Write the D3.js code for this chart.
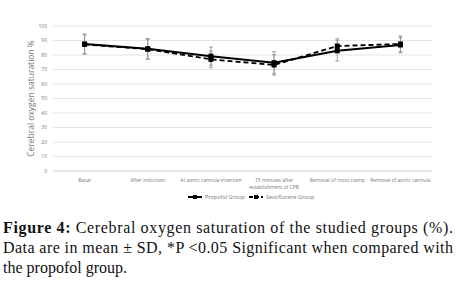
<!DOCTYPE html>
<html>
<head>
<meta charset="utf-8">
<script src="https://cdn.jsdelivr.net/npm/d3@7"></script>
<style>
  body { margin: 0; background: #fff; }
  svg text { font-family: "Open Sans", "DejaVu Sans", sans-serif; }
</style>
</head>
<body>
<div id="chart"></div>
<script>
// data
const categories = ["Basal", "After induction", "At aortic cannula insertion",
  "15 minutes after|establishment of CPB", "Removal of cross clamp", "Removal of aortic cannula"];
const propofol = [87.6, 84.3, 79.2, 74.7, 83.0, 86.9];
const sevoflurane = [87.3, 84.0, 77.0, 73.1, 86.2, 87.6];
const propofolSD = [6.9, 7.1, 6.3, 7.6, 7.2, 5.3];
const sevofluraneSD = [6.5, 6.8, 5.8, 7.0, 5.0, 5.5];
const yTicks = [0, 10, 20, 30, 40, 50, 60, 70, 80, 90, 100];
const seriesNames = ["Propofol  Group", "Sevoflurane Group"];

const W = 456, H = 296;
const plot = {left: 53, right: 432, top: 26, bottom: 171};

const svg = d3.select("#chart").append("svg")
    .attr("width", W)
    .attr("height", H);

const x = d3.scaleBand()
    .domain(categories)
    .range([plot.left, plot.right]);

const y = d3.scaleLinear()
    .domain([0, 100])
    .range([plot.bottom, plot.top]);

// gridlines
svg.append("g")
    .selectAll("line")
    .data(yTicks)
    .enter()
    .append("line")
    .attr("x1", plot.left)
    .attr("x2", plot.right)
    .attr("y1", d => y(d))
    .attr("y2", d => y(d))
    .attr("stroke", d => d === 0 ? "#d0d0d0" : "#e4e4e4")
    .attr("stroke-width", 1);

// y tick labels
svg.append("g")
    .selectAll("text")
    .data(yTicks)
    .enter()
    .append("text")
    .attr("x", plot.left - 6)
    .attr("y", d => y(d))
    .attr("dy", "0.35em")
    .attr("text-anchor", "end")
    .attr("font-size", 5)
    .attr("fill", "#777")
    .text(d => d);

// y axis title
svg.append("text")
    .attr("transform", `translate(34,${(plot.top + plot.bottom) / 2}) rotate(-90)`)
    .attr("text-anchor", "middle")
    .attr("font-size", 8.5)
    .attr("fill", "#777")
    .text("Cerebral oxygen saturation %");

// category labels
const catG = svg.append("g");
categories.forEach(c => {
    const lines = c.split("|");
    const t = catG.append("text")
        .attr("text-anchor", "middle")
        .attr("font-size", 5)
        .attr("fill", "#777");
    lines.forEach((l, i) => {
        t.append("tspan")
            .attr("x", x(c) + x.bandwidth() / 2)
            .attr("y", 182 + i * 7)
            .text(l);
    });
});

const cx = c => x(c) + x.bandwidth() / 2;

// error bars
function errorBars(vals, sds) {
    const g = svg.append("g").attr("stroke", "#8a8a8a").attr("stroke-width", 0.8);
    categories.forEach((c, i) => {
        const xc = cx(c);
        g.append("line").attr("x1", xc).attr("x2", xc)
            .attr("y1", y(vals[i] + sds[i])).attr("y2", y(vals[i] - sds[i]));
        [vals[i] + sds[i], vals[i] - sds[i]].forEach(v => {
            g.append("line").attr("x1", xc - 2).attr("x2", xc + 2)
                .attr("y1", y(v)).attr("y2", y(v));
        });
    });
}
errorBars(sevoflurane, sevofluraneSD);
errorBars(propofol, propofolSD);

const line = d3.line()
    .x((d, i) => cx(categories[i]))
    .y(d => y(d));

svg.append("path")
    .datum(sevoflurane)
    .attr("d", line)
    .attr("fill", "none")
    .attr("stroke", "#000")
    .attr("stroke-width", 1.8)
    .attr("stroke-dasharray", "5,3");

svg.append("path")
    .datum(propofol)
    .attr("d", line)
    .attr("fill", "none")
    .attr("stroke", "#000")
    .attr("stroke-width", 2);

// markers
[propofol, sevoflurane].forEach(vals => {
    svg.append("g")
        .selectAll("rect")
        .data(vals)
        .enter()
        .append("rect")
        .attr("x", (d, i) => cx(categories[i]) - 2.5)
        .attr("y", d => y(d) - 2.5)
        .attr("width", 5)
        .attr("height", 5)
        .attr("fill", "#000");
});

// legend
const legend = svg.append("g");
const legX = [188, 249];
seriesNames.forEach((name, i) => {
    const g = legend.append("g").attr("transform", `translate(${legX[i]},197)`);
    g.append("line")
        .attr("x1", 0).attr("x2", 14)
        .attr("stroke", "#000")
        .attr("stroke-width", 2)
        .attr("stroke-dasharray", i === 1 ? "4,2" : null);
    g.append("rect").attr("x", 5).attr("y", -2).attr("width", 4).attr("height", 4).attr("fill", "#000");
    g.append("text")
        .attr("x", 17)
        .attr("dy", "0.35em")
        .attr("font-size", 5.5)
        .attr("fill", "#777")
        .text(name);
});

// caption
const cap = svg.append("g")
    .attr("font-size", 16)
    .attr("fill", "#111");

const l1 = cap.append("text")
    .attr("x", 3).attr("y", 233)
    .attr("textLength", 450)
    .attr("lengthAdjust", "spacing")
    .style("font-family", "'Liberation Serif', serif");
l1.append("tspan").attr("font-weight", "bold").text("Figure 4:");
l1.append("tspan").text(" Cerebral oxygen saturation of the studied groups (%).");

cap.append("text")
    .attr("x", 3).attr("y", 253)
    .attr("textLength", 450)
    .attr("lengthAdjust", "spacing")
    .style("font-family", "'Liberation Serif', serif")
    .text("Data are in mean \u00b1 SD, *P <0.05 Significant when compared with");

cap.append("text")
    .attr("x", 3).attr("y", 273)
    .style("font-family", "'Liberation Serif', serif")
    .text("the propofol group.");
</script>
</body>
</html>
